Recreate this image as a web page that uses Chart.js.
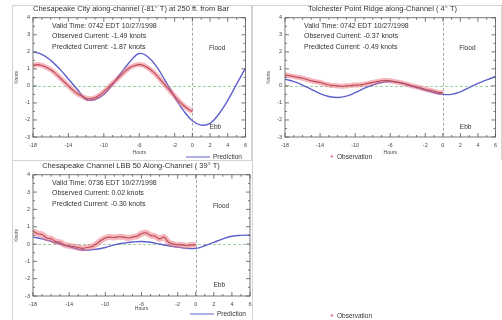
<!DOCTYPE html>
<html>
<head>
<meta charset="utf-8">
<script src="https://cdn.jsdelivr.net/npm/chart.js@4.4.1/dist/chart.umd.min.js"></script>
<style>
    body { margin: 0; background: #fff; width: 502px; height: 320px; overflow: hidden; position: relative; }
    canvas { position: absolute; }
</style>
</head>
<body>
<canvas id="panel1" width="252" height="160" style="left:0;top:0"></canvas>
<canvas id="panel2" width="250" height="160" style="left:252px;top:0"></canvas>
<canvas id="panel3" width="502" height="160" style="left:0;top:160px"></canvas>
<script>
// horas relativas a la hora valida
const hoursPred = [-18, -17, -16, -15, -14, -13, -12, -11, -10, -9, -8, -7, -6, -5, -4, -3, -2, -1, 0, 1, 2, 3, 4, 5, 6];
const hoursObs = [-18, -17.5, -17, -16.5, -16, -15.5, -15, -14.5, -14, -13.5, -13, -12.5, -12, -11.5, -11, -10.5, -10, -9.5,
    -9, -8.5, -8, -7.5, -7, -6.5, -6, -5.5, -5, -4.5, -4, -3.5, -3, -2.5, -2, -1.5, -1, -0.5, 0];
const xTickValues = [-18, -14, -10, -6, -2, 0, 2, 4, 6];
const yTickValues = [-3, -2, -1, 0, 1, 2, 3, 4];

// panel 1
const pred1 = [2.0, 1.85, 1.5, 1.0, 0.4, -0.2, -0.8, -0.8, -0.5, 0.1, 0.8, 1.45, 1.9, 1.7, 1.1, 0.25, -0.65, -1.45, -2.05, -2.3, -2.2, -1.65, -0.85, 0.1, 1.05];
const obs1 = [1.2, 1.25, 1.2, 1.1, 0.95, 0.75, 0.5, 0.25, 0.0, -0.25, -0.45, -0.6, -0.72, -0.75, -0.7, -0.55, -0.35, -0.1,
    0.15, 0.4, 0.65, 0.9, 1.1, 1.2, 1.25, 1.2, 1.05, 0.85, 0.6, 0.3, 0.0, -0.3, -0.6, -0.9, -1.15, -1.35, -1.5];

// panel 2
const pred2 = [0.4, 0.25, 0.05, -0.2, -0.45, -0.62, -0.68, -0.6, -0.4, -0.15, 0.05, 0.2, 0.25, 0.2, 0.05, -0.1, -0.25, -0.4, -0.5, -0.5, -0.35, -0.1, 0.15, 0.35, 0.55];
const obs2 = [0.65, 0.6, 0.55, 0.5, 0.45, 0.38, 0.3, 0.25, 0.2, 0.12, 0.05, 0.02, 0.0, -0.02, 0.0, 0.02, 0.05, 0.05,
    0.1, 0.15, 0.2, 0.25, 0.3, 0.32, 0.3, 0.25, 0.2, 0.15, 0.08, 0.0, -0.05, -0.12, -0.2, -0.25, -0.32, -0.38, -0.4];

// panel 3
const pred3 = [0.4, 0.3, 0.15, 0.0, -0.15, -0.3, -0.35, -0.3, -0.2, -0.05, 0.05, 0.12, 0.15, 0.1, 0.0, -0.1, -0.18, -0.25, -0.25, -0.1, 0.1, 0.3, 0.45, 0.5, 0.52];
const obs3 = [0.75, 0.6, 0.55, 0.35, 0.3, 0.15, 0.1, -0.05, -0.1, -0.15, -0.2, -0.25, -0.2, -0.15, 0.0, 0.2, 0.35, 0.4,
    0.38, 0.42, 0.4, 0.35, 0.4, 0.45, 0.6, 0.65, 0.5, 0.45, 0.3, 0.4, 0.1, 0.0, -0.05, -0.05, -0.1, -0.05, -0.05];

const FONT = "'Liberation Sans', Arial, sans-serif";
const BLUE = '#5d60cc';

function toPoints(xs, ys) {
    return xs.map((h, i) => ({ x: h, y: ys[i] }));
}

function line(ctx, x1, y1, x2, y2) {
    ctx.beginPath();
    ctx.moveTo(x1, y1);
    ctx.lineTo(x2, y2);
    ctx.stroke();
}

// lineas de cero, marco, texto y leyenda
function decor(cfg) {
    return {
        id: 'decor',
        beforeDatasetsDraw(chart) {
            const { ctx, chartArea: a, scales: { x, y } } = chart;
            ctx.save();
            ctx.lineWidth = 0.8;
            ctx.setLineDash([3, 2]);
            ctx.strokeStyle = '#8cc08c';
            const y0 = Math.round(y.getPixelForValue(0)) + 0.5;
            line(ctx, a.left, y0, a.right, y0);
            ctx.strokeStyle = '#909090';
            const x0 = Math.round(x.getPixelForValue(0)) + 0.5;
            line(ctx, x0, a.top, x0, a.bottom);
            ctx.restore();
        },
        afterDraw(chart) {
            const { ctx, chartArea: a, scales: { x, y } } = chart;
            ctx.save();

            // marco exterior del panel
            ctx.strokeStyle = '#d4d4d4';
            ctx.lineWidth = 1;
            const f = cfg.frame;
            ctx.strokeRect(f[0] + 0.5, f[1] + 0.5, f[2] - f[0] - 1, f[3] - f[1] - 1);

            // caja del grafico con marcas hacia dentro
            ctx.strokeStyle = '#555';
            ctx.lineWidth = 0.8;
            ctx.strokeRect(a.left, a.top, a.right - a.left, a.bottom - a.top);
            for (let h = -18; h <= 6; h++) {
                const px = x.getPixelForValue(h);
                const len = xTickValues.includes(h) ? 4 : 2;
                line(ctx, px, a.bottom, px, a.bottom - len);
                line(ctx, px, a.top, px, a.top + len);
            }
            for (let v = -3; v <= 4; v += 0.5) {
                const py = y.getPixelForValue(v);
                const len = Number.isInteger(v) ? 4 : 2;
                line(ctx, a.left, py, a.left + len, py);
                line(ctx, a.right, py, a.right - len, py);
            }

            // texto de informacion
            ctx.fillStyle = '#333';
            ctx.font = '7px ' + FONT;
            ctx.textBaseline = 'middle';
            ctx.textAlign = 'left';
            cfg.info.forEach((txt, i) => {
                ctx.fillText(txt, a.left + 19, a.top + 8 + i * 10.5);
            });

            ctx.font = '6.5px ' + FONT;
            ctx.textAlign = 'center';
            ctx.fillText('Flood', x.getPixelForValue(2.8), y.getPixelForValue(2.2));
            ctx.fillText('Ebb', x.getPixelForValue(2.6), y.getPixelForValue(-2.4));

            // leyenda
            ctx.textAlign = 'left';
            ctx.font = '6.5px ' + FONT;
            cfg.legend.forEach(item => {
                if (item.type === 'pred') {
                    ctx.strokeStyle = BLUE;
                    ctx.lineWidth = 1;
                    line(ctx, item.x, item.y, item.x + 24, item.y);
                    ctx.fillStyle = '#333';
                    ctx.fillText('Prediction', item.x + 27, item.y);
                } else {
                    ctx.fillStyle = '#c0303a';
                    ctx.fillText('+', item.x, item.y);
                    ctx.fillStyle = '#333';
                    ctx.fillText('Observation', item.x + 7, item.y);
                }
            });
            ctx.restore();
        }
    };
}

function makePanel(id, cfg) {
    const canvas = document.getElementById(id);
    return new Chart(canvas, {
        type: 'line',
        data: {
            datasets: [
                {
                    label: 'Observation',
                    data: toPoints(hoursObs, cfg.obs),
                    borderColor: 'rgba(236, 112, 124, 0.5)',
                    borderWidth: cfg.bandWidth,
                    pointRadius: 0,
                    tension: 0.3
                },
                {
                    label: 'Observation',
                    data: toPoints(hoursObs, cfg.obs),
                    borderColor: '#8e1f2e',
                    borderWidth: 1.1,
                    pointRadius: 0,
                    tension: 0.3
                },
                {
                    label: 'Prediction',
                    data: toPoints(hoursPred, cfg.pred),
                    borderColor: BLUE,
                    borderWidth: 1.4,
                    pointRadius: 0,
                    tension: 0.4
                }
            ]
        },
        options: {
            responsive: false,
            animation: false,
            events: [],
            layout: {
                padding: { left: 12, right: cfg.padRight, top: 0, bottom: 0 }
            },
            plugins: {
                legend: { display: false },
                tooltip: { enabled: false },
                title: {
                    display: true,
                    text: cfg.title,
                    color: '#333',
                    font: { family: FONT, size: 7.5, weight: 'normal', lineHeight: 1.1 },
                    padding: { top: cfg.titleTop, bottom: 4.5 }
                }
            },
            scales: {
                x: {
                    type: 'linear',
                    min: -18,
                    max: 6,
                    afterBuildTicks: s => { s.ticks = xTickValues.map(v => ({ value: v })); },
                    afterFit: s => { s.height = cfg.xHeight; },
                    grid: { display: false, drawTicks: false },
                    border: { display: false },
                    ticks: {
                        color: '#444',
                        font: { family: FONT, size: 5.5 },
                        padding: 5,
                        maxRotation: 0,
                        autoSkip: false
                    },
                    title: {
                        display: true,
                        text: 'Hours',
                        color: '#444',
                        font: { family: FONT, size: 5 },
                        padding: { top: 0, bottom: cfg.xTitlePad }
                    }
                },
                y: {
                    min: -3,
                    max: 4,
                    afterBuildTicks: s => { s.ticks = yTickValues.map(v => ({ value: v })); },
                    afterFit: s => { s.width = 21; },
                    grid: { display: false, drawTicks: false },
                    border: { display: false },
                    ticks: {
                        color: '#444',
                        font: { family: FONT, size: 5.5 },
                        padding: 3
                    },
                    title: {
                        display: true,
                        text: 'Knots',
                        color: '#444',
                        font: { family: FONT, size: 5 },
                        padding: { top: 2, bottom: 2 }
                    }
                }
            }
        },
        plugins: [decor(cfg)]
    });
}

makePanel('panel1', {
    title: 'Chesapeake City along-channel (-81° T) at 250 ft. from Bar',
    info: ['Valid Time: 0742 EDT 10/27/1998', 'Observed Current: -1.49 knots', 'Predicted Current: -1.87 knots'],
    pred: pred1,
    obs: obs1,
    bandWidth: 5,
    padRight: 2,
    titleTop: 5,
    xHeight: 23,
    xTitlePad: 4,
    frame: [12, 5, 252, 161],
    legend: [{ type: 'pred', x: 186, y: 157 }]
});

makePanel('panel2', {
    title: 'Tolchester Point Ridge along-Channel ( 4° T)',
    info: ['Valid Time: 0742 EDT 10/27/1998', 'Observed Current: -0.37 knots', 'Predicted Current: -0.49 knots'],
    pred: pred2,
    obs: obs2,
    bandWidth: 5,
    padRight: 1,
    titleTop: 5,
    xHeight: 23,
    xTitlePad: 4,
    frame: [0, 5, 250, 161],
    legend: [{ type: 'obs', x: 78, y: 157 }]
});

makePanel('panel3', {
    title: 'Chesapeake Channel LBB 50 Along-Channel ( 39° T)',
    info: ['Valid Time: 0736 EDT 10/27/1998', 'Observed Current: 0.02 knots', 'Predicted Current: -0.30 knots'],
    pred: pred3,
    obs: obs3,
    bandWidth: 6,
    padRight: 252,
    titleTop: 2,
    xHeight: 24,
    xTitlePad: 8,
    frame: [12, 0, 253, 161],
    legend: [{ type: 'pred', x: 190, y: 154 }, { type: 'obs', x: 330, y: 156 }]
});
</script>
</body>
</html>
